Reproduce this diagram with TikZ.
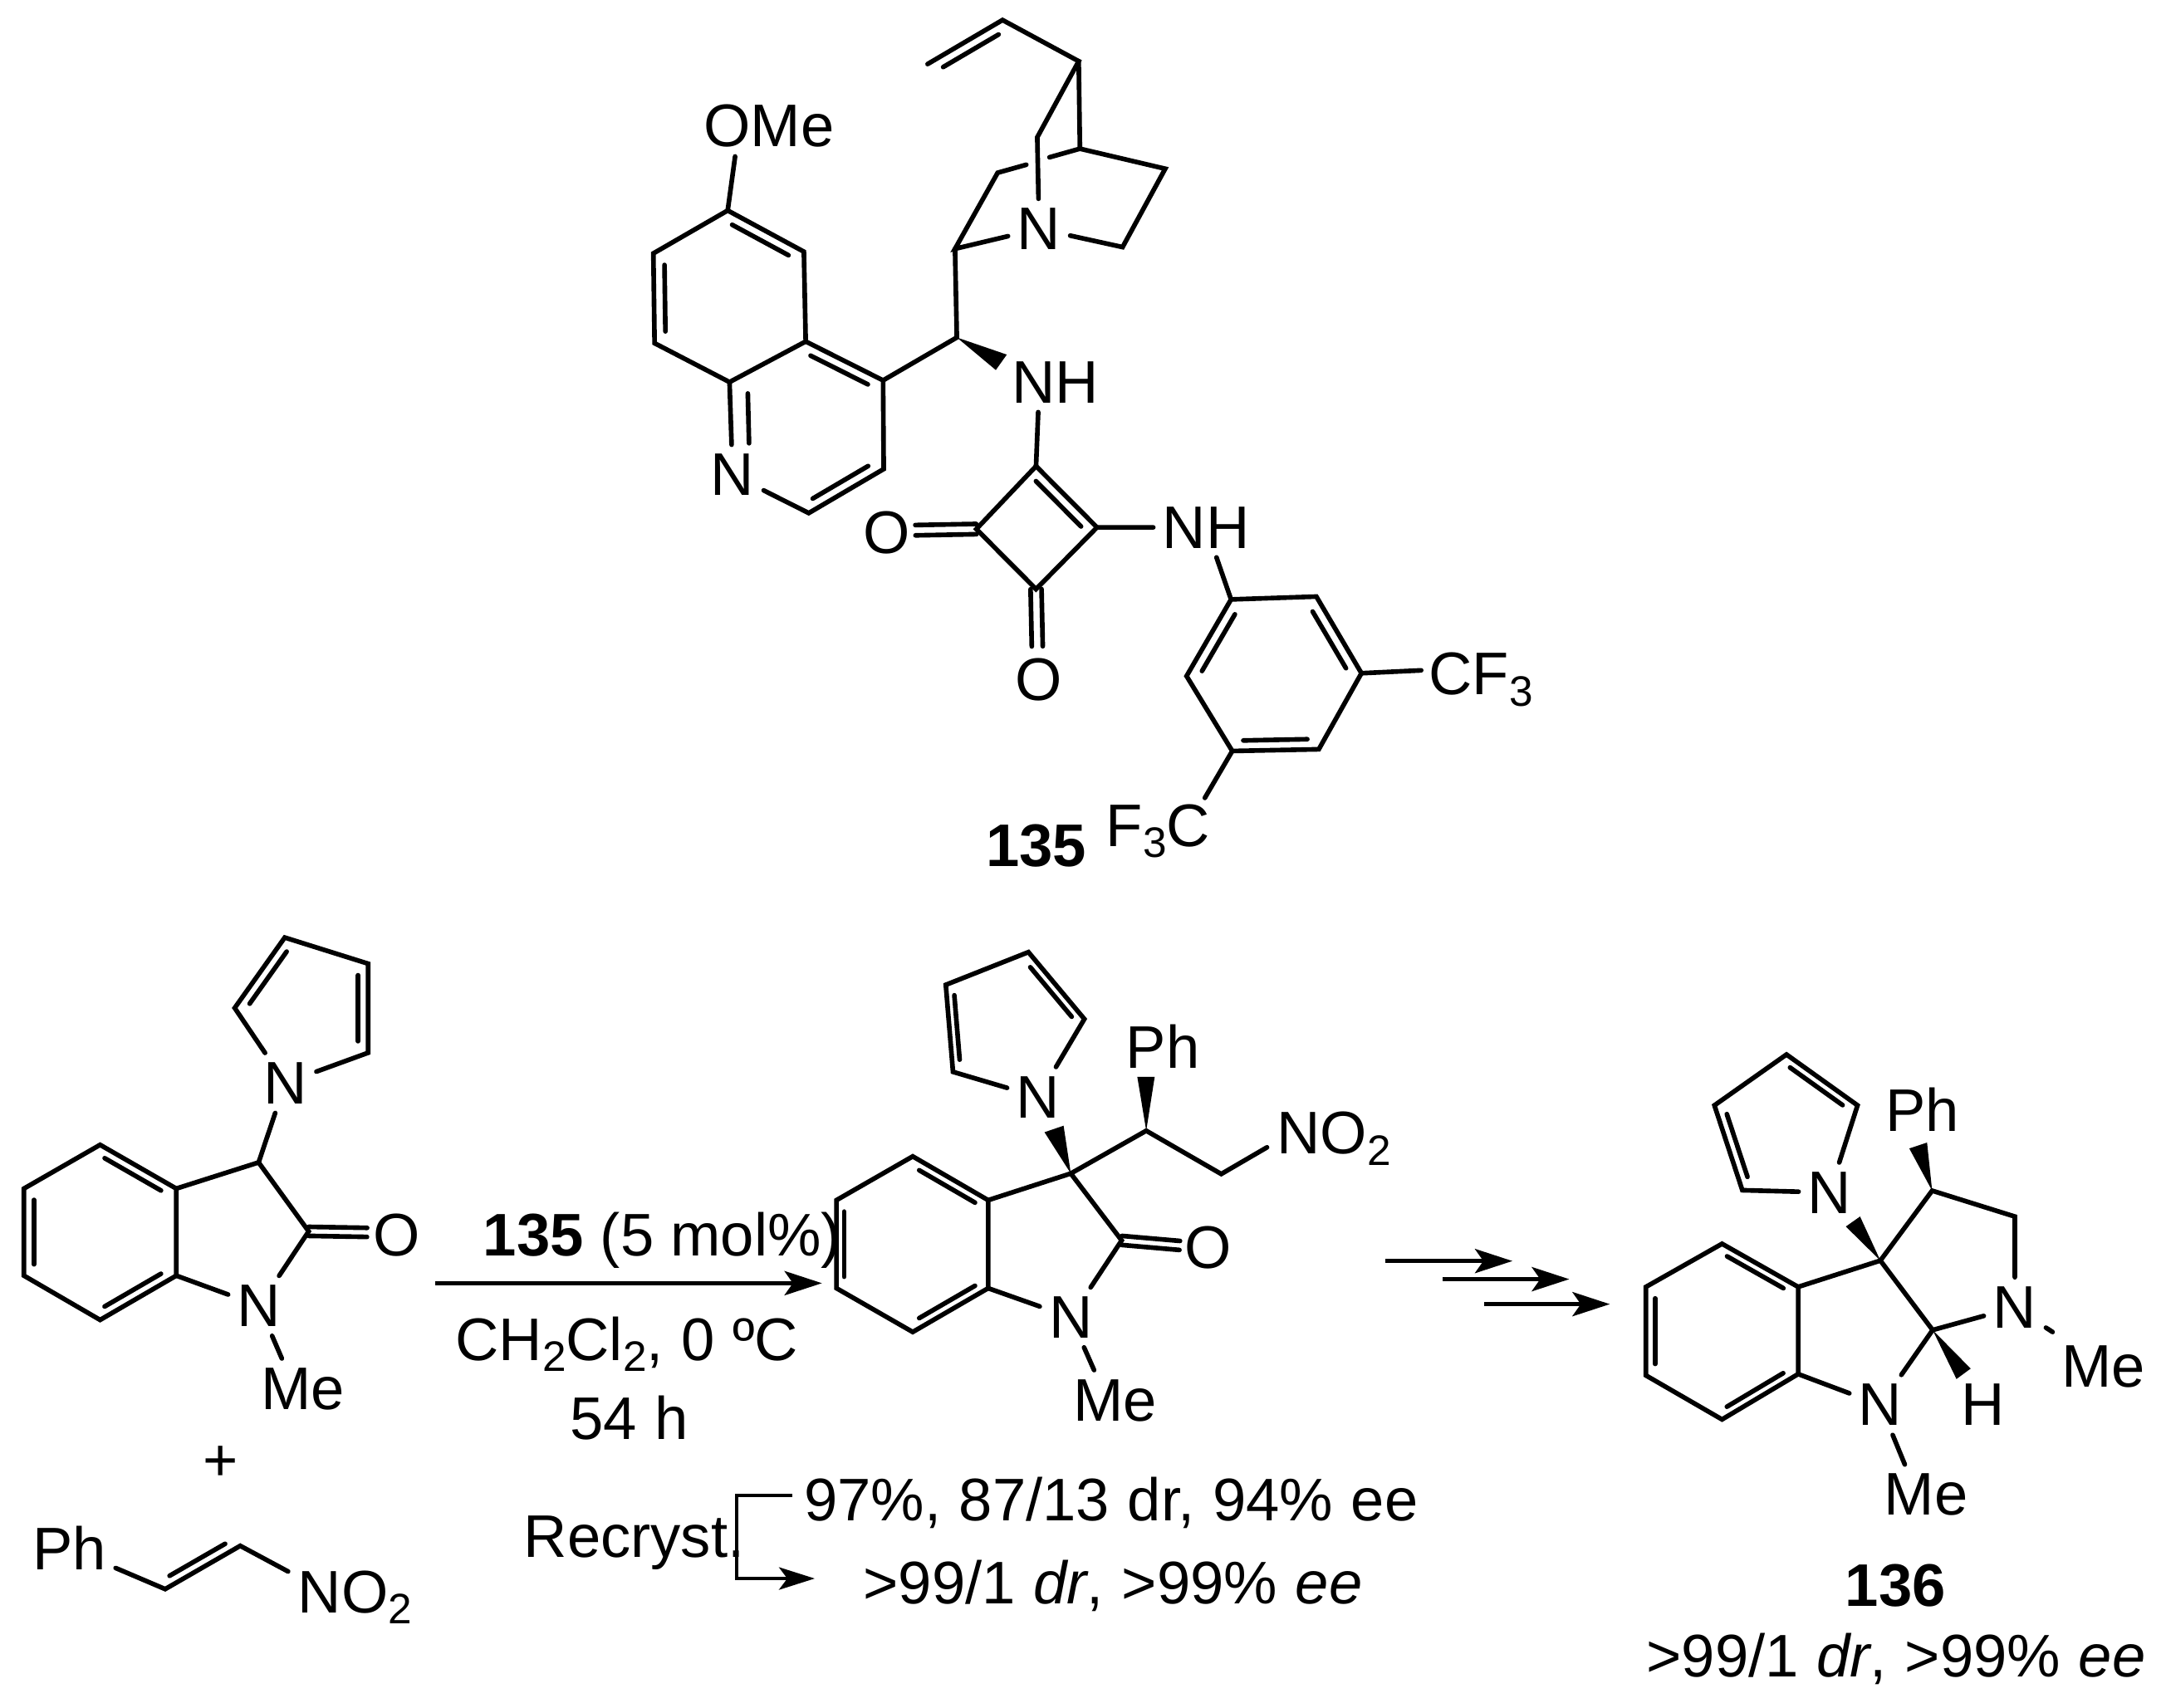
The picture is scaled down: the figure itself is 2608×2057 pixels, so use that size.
\documentclass[tikz,border=0pt]{standalone}
\usepackage{fontspec}
\setmainfont{Liberation Sans}
\usetikzlibrary{arrows.meta,calc}
\newcommand{\chemsize}{\fontsize{20.6}{24}\selectfont}
\newcommand{\widesize}{\chemsize\spaceskip=.30em\relax}
\newcommand{\lowsub}[1]{\raisebox{-3.8pt}{\fontsize{14.6}{16}\selectfont #1}}
\newcommand{\inbond}[2]{\draw[bond] ($(#1)!.13!(#2)!.18cm!-90:(#2)$) -- ($(#2)!.13!(#1)!.18cm!90:(#1)$);}
\newcommand{\twobond}[2]{\draw[bond] ($(#1)!.09cm!90:(#2)$) -- ($(#2)!.09cm!-90:(#1)$) ($(#1)!.09cm!-90:(#2)$) -- ($(#2)!.09cm!90:(#1)$);}
\tikzset{
  bond/.style={line width=1.6pt,line cap=round},
  rxnarrow/.style={line width=1.5pt,-{Stealth[length=.45cm,width=.29cm,inset=.1cm]}},
  atom/.style={font=\chemsize,inner sep=3pt},
  lbl/.style={font=\chemsize,inner sep=0pt,anchor=base west},
  widelbl/.style={lbl,font=\widesize}
}
\begin{document}
\begin{tikzpicture}[x=.01cm,y=-.01cm]
  \useasboundingbox (0,0) rectangle (2608,2057);

  % catalyst 135
  \begin{scope}[shift={(750,0)},xscale=.7337,yscale=.6888]
    \foreach \n/\p in {v1/{500,112},v2/{623,35},k4/{748,107},k3/{680,240},k5/{750,260},k6/{890,295},k7/{820,432},k8/{615,302},k2/{545,435},c9/{548,590},
      q6/{172,368},q5/{297,440},q4a/{300,597},q8a/{175,668},q8/{52,600},q7/{50,443},q4/{427,665},q3/{428,820},q2/{305,897},
      s1/{678,815},s2/{778,922},s3/{678,1030},s4/{580,925},a1/{998,1048},a2/{1138,1043},a3/{1212,1177},a4/{1142,1310},a5/{1000,1313},a6/{925,1182},
      oa/{480,927},ob/{680,1130},gap1/{700,275},gap2/{662,288},cfend/{1310,1172},fcend/{955,1395}}
      \coordinate (\n) at (\p);
    \node[atom] (nq) at (683,400) {N};
    \node[atom] (ome) at (240,220) {OMe};
    \node[atom] (nquin) at (180,830) {N};
    \node[atom] (nh1) at (710,668) {NH};
    \node[atom] (nh2) at (957,922) {NH};
    \node[atom] (o1) at (433,932) {O};
    \node[atom] (o2) at (682,1188) {O};
    \node[lbl] (cf3) at (1322,1215) {CF\lowsub{3}};
    \node[lbl] (f3c) at (792,1480) {F\lowsub{3}C};
    \node[lbl,font=\chemsize\bfseries] (n135) at (595,1515) {135};

    % quinuclidine and vinyl
    \draw[bond] (v1) -- (v2) -- (k4) -- (k3) -- (nq);
    \inbond{v1}{v2}
    \draw[bond] (k4) -- (k5) -- (k6) -- (k7) -- (nq);
    \draw[bond] (k5) -- (gap1) (gap2) -- (k8) -- (k2) -- (nq);
    \draw[bond] (k2) -- (c9) -- (q4);
    \fill (c9) -- (630,620) -- (612,647) -- cycle;
    % quinoline
    \draw[bond] (ome.222) -- (q6);
    \draw[bond] (q6) -- (q5) -- (q4a) -- (q8a) -- (q8) -- (q7) -- cycle;
    \draw[bond] (q4a) -- (q4) -- (q3) -- (q2) -- (nquin) -- (q8a);
    \inbond{q6}{q5} \inbond{q8}{q7} \inbond{q4a}{q4} \inbond{q3}{q2}
    \draw[bond] (205,688) -- (207,775);
    % squaramide
    \draw[bond] (nh1.240) -- (s1);
    \draw[bond] (s1) -- (s2) -- (s3) -- (s4) -- cycle;
    \inbond{s1}{s2}
    \twobond{s4}{oa}
    \twobond{s3}{ob}
    \draw[bond] (s2) -- (nh2) -- (a1);
    % aryl
    \draw[bond] (a1) -- (a2) -- (a3) -- (a4) -- (a5) -- (a6) -- cycle;
    \inbond{a2}{a3} \inbond{a4}{a5} \inbond{a6}{a1}
    \draw[bond] (a3) -- (cfend);
    \draw[bond] (a5) -- (fcend);
  \end{scope}

  % oxindole and nitrostyrene
  \begin{scope}[shift={(0,1100)},xscale=.6696,yscale=.6059]
    \foreach \n/\p in {p1/{422,188},p2/{512,48},p3/{662,100},p4/{662,277},c3/{465,495},c2/{555,632},
      b1/{180,460},b2/{317,547},b3/{317,720},b4/{180,808},b5/{43,720},b6/{43,547},oe/{660,634},
      e1/{297,1343},e2/{432,1257},noend/{518,1308},arrA/{782,735},arrB/{1478,735},br1/{1425,1157},br2/{1325,1157},br3/{1325,1322},br4/{1465,1322}}
      \coordinate (\n) at (\p);
    \node[atom] (npyr) at (513,337) {N};
    \node[atom] (nox) at (466,780) {N};
    \node[atom] (oox) at (713,640) {O};
    \node[atom] (meox) at (545,945) {Me};
    \node[atom] (plus) at (397,1093) {+};
    \node[atom] (phs) at (125,1262) {Ph};
    \node[lbl] (no2s) at (535,1390) {NO\lowsub{2}};
    \node[lbl] (cond1) at (868,680) {\textbf{135} (5 mol\%)};
    \node[widelbl] (cond2) at (818,888) {CH\lowsub{2}Cl\lowsub{2}, 0 ºC};
    \node[widelbl] (cond3) at (1024,1045) {54 h};
    \node[lbl] (recr) at (941,1280) {Recryst.};

    \draw[bond] (npyr) -- (p1) -- (p2) -- (p3) -- (p4) -- (npyr);
    \inbond{p1}{p2} \inbond{p3}{p4}
    \draw[bond] (npyr) -- (c3) -- (b2);
    \draw[bond] (b1) -- (b2) -- (b3) -- (b4) -- (b5) -- (b6) -- cycle;
    \inbond{b1}{b2} \inbond{b3}{b4} \inbond{b5}{b6}
    \draw[bond] (c3) -- (c2) -- (nox) -- (b3);
    \twobond{c2}{oe}
    \draw[bond] (nox) -- (meox.125);
    \draw[bond] (phs) -- (e1) -- (e2) -- (noend);
    \inbond{e2}{e1}
    \draw[rxnarrow] (arrA) -- (arrB);
    \draw[line width=1.2pt,-{Stealth[length=.43cm,width=.27cm,inset=.1cm]}] (br1) -- (br2) -- (br3) -- (br4);
  \end{scope}

  % Michael adduct
  \begin{scope}[shift={(950,1100)},xscale=.5102,yscale=.6059]
    \foreach \n/\p in {r1/{387,315},r2/{370,142},r3/{565,77},r4/{697,210},cq/{665,517},ch/{843,432},ch2/{1020,518},noend2/{1128,465},co/{785,650},oe2/{922,660},
      d1/{292,483},d2/{470,570},d3/{470,745},d4/{292,832},d5/{112,745},d6/{112,570}}
      \coordinate (\n) at (\p);
    \node[atom] (npyr2) at (588,365) {N};
    \node[atom] (nox2) at (665,803) {N};
    \node[atom] (oox2) at (990,665) {O};
    \node[atom] (meox2) at (770,968) {Me};
    \node[atom] (phb) at (882,265) {Ph};
    \node[lbl] (no2b) at (1150,478) {NO\lowsub{2}};
    \node[widelbl] (res1) at (34,1208) {97\%, 87/13 dr, 94\% ee};
    \node[widelbl] (res2) at (174,1372) {>99/1 \textit{dr}, >99\% \textit{ee}};

    \draw[bond] (npyr2) -- (r1) -- (r2) -- (r3) -- (r4) -- (npyr2);
    \inbond{r1}{r2} \inbond{r3}{r4}
    \fill (cq) -- (603,435) -- (648,422) -- cycle;
    \draw[bond] (d1) -- (d2) -- (d3) -- (d4) -- (d5) -- (d6) -- cycle;
    \inbond{d1}{d2} \inbond{d3}{d4} \inbond{d5}{d6}
    \draw[bond] (d2) -- (cq) -- (ch) -- (ch2) -- (noend2);
    \fill (ch) -- (822,325) -- (863,325) -- cycle;
    \draw[bond] (cq) -- (co) -- (nox2) -- (d3);
    \twobond{co}{oe2}
    \draw[bond] (nox2) -- (meox2.125);
  \end{scope}

  % spiro product 136
  \begin{scope}[shift={(1650,1200)},xscale=.611,yscale=.5466]
    \foreach \n/\p in {t1/{733,427},t2/{678,240},t3/{820,128},t4/{960,240},sp/{1005,582},cp/{1107,428},cm/{1270,485},ca/{1108,735},
      g1/{693,545},g2/{843,640},g3/{843,832},g4/{693,932},g5/{543,835},g6/{543,640},
      la1/{30,583},la2/{280,583},lb1/{142,623},lb2/{392,623},lc1/{224,678},lc2/{472,678}}
      \coordinate (\n) at (\p);
    \node[atom] (npyr3) at (905,432) {N};
    \node[atom] (nr) at (1270,685) {N};
    \node[atom] (nb) at (1005,900) {N};
    \node[atom] (hc) at (1208,900) {H};
    \node[atom] (phc) at (1088,250) {Ph};
    \node[atom] (mer) at (1445,815) {Me};
    \node[atom] (meb) at (1095,1098) {Me};
    \node[atom,font=\chemsize\bfseries] (n136) at (1035,1298) {136};
    \node[widelbl] (res3) at (543,1500) {>99/1 \textit{dr}, >99\% \textit{ee}};

    \draw[rxnarrow] (la1) -- (la2);
    \draw[rxnarrow] (lb1) -- (lb2);
    \draw[rxnarrow] (lc1) -- (lc2);
    \draw[bond] (npyr3) -- (t1) -- (t2) -- (t3) -- (t4) -- (npyr3);
    \inbond{t1}{t2} \inbond{t3}{t4}
    \fill (sp) -- (937,507) -- (965,485) -- cycle;
    \draw[bond] (g1) -- (g2) -- (g3) -- (g4) -- (g5) -- (g6) -- cycle;
    \inbond{g1}{g2} \inbond{g3}{g4} \inbond{g5}{g6}
    \draw[bond] (g2) -- (sp) -- (cp) -- (cm) -- (nr) -- (ca) -- (sp);
    \draw[bond] (ca) -- (nb) -- (g3);
    \fill (cp) -- (1062,335) -- (1097,322) -- cycle;
    \fill (ca) -- (1155,843) -- (1183,820) -- cycle;
    \draw[bond] (nb) -- (meb.125);
    \draw[bond,shorten >=2.5pt] (nr) -- (mer.146);
  \end{scope}
\end{tikzpicture}
\end{document}
